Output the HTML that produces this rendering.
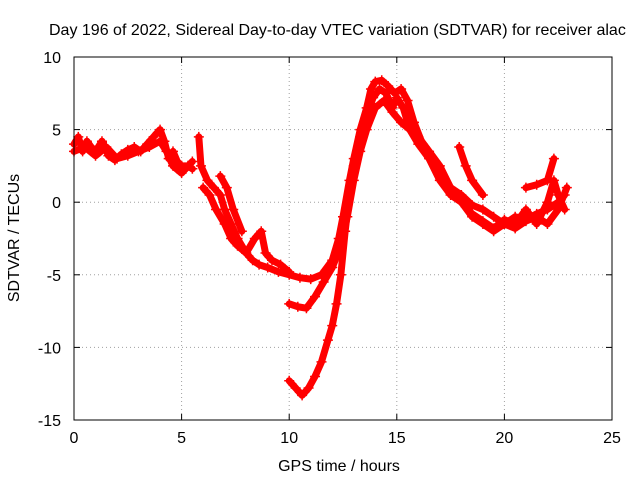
<!DOCTYPE html>
<html><head><meta charset="utf-8"><style>
body{margin:0;background:#fff;}
svg{display:block;font-family:"Liberation Sans",sans-serif;}
</style></head><body>
<svg id="chart" width="640" height="480">
<text x="49" y="35" font-size="16" fill="#000">Day 196 of 2022, Sidereal Day-to-day VTEC variation (SDTVAR) for receiver alac</text>
<g id="grid"></g>
<g id="series"></g>
<rect x="74" y="57" width="538" height="363" fill="none" stroke="#000" stroke-width="1"/>
<g id="axes"></g>
<text x="339" y="471" font-size="16" text-anchor="middle">GPS time / hours</text>
<text transform="translate(19,238) rotate(-90)" font-size="16" text-anchor="middle">SDTVAR / TECUs</text>
</svg>
<script>
const xTicks=[0,5,10,15,20,25];
const yTicks=[-15,-10,-5,0,5,10];
const s1=[[0,4],[0.2,4.5],[0.4,3.5],[0.6,4.2],[0.8,3.8],[1,3.5],[1.3,4.2],[1.6,3.2],[1.9,2.9],[2.2,3.3],[2.5,3.6],[2.8,3.8],[3.1,3.5],[3.4,4],[3.7,4.5],[4,5],[4.2,4.2],[4.4,3],[4.6,3.5],[4.8,2.8],[5,2.5],[5.3,2.5],[5.5,2.3]];
const s1b=[[0,3.5],[0.5,3.8],[1,3.2],[1.5,3.8],[2,3],[2.5,3.2],[3,3.5],[3.5,3.8],[4,4.2],[4.3,3.5],[4.6,2.5],[5,2],[5.5,2.8]];
const s2=[[5.8,4.5],[5.9,2.5],[6.2,1.5],[6.5,1],[6.8,0.5],[7,-0.5],[7.3,-1.5],[7.6,-2.5],[8,-3.5],[8.3,-4],[8.6,-4.3],[9,-4.5],[9.5,-4.8],[10,-5],[10.5,-5.2],[11,-5.3],[11.5,-5],[12,-4],[12.3,-2.5],[12.5,-1],[12.8,1.5],[13,3],[13.3,5],[13.6,6.5],[13.8,7.8],[14,8.3],[14.3,8.4],[14.6,8],[14.9,7.5],[15.2,7.8],[15.5,7],[15.8,5.5],[16.2,4],[16.6,3],[17,2],[17.5,1],[18,0.5],[18.5,-0.2],[19,-0.5],[19.5,-1],[20,-1.5],[20.5,-1],[21,-1.2],[21.5,-0.8],[22,-0.5],[22.5,0],[22.8,0.5]];
const s3=[[6,1],[6.3,0.5],[6.6,-0.5],[7,-1.5],[7.3,-2.5],[7.6,-3],[8,-3.5],[8.4,-2.5],[8.7,-2],[8.9,-3.5],[9.2,-4],[9.6,-4.3],[10,-4.8]];
const s3b=[[6.8,1.8],[7.1,1],[7.4,-0.5],[7.8,-2]];
const s4=[[10,-12.3],[10.3,-12.8],[10.6,-13.3],[10.9,-12.8],[11.2,-12],[11.5,-11],[11.8,-9.5],[12,-8.5],[12.2,-7],[12.4,-5],[12.6,-2],[12.8,0.5],[13,2.5],[13.3,4.5],[13.6,6],[13.9,7.2],[14.2,7.8],[14.5,7.5],[14.8,6.5],[15,7.2],[15.3,6.5],[15.6,5],[16,4.5],[16.5,3.5],[17,2.5],[17.5,1],[18,0],[18.5,-0.8],[19,-1.3],[19.5,-1.8],[20,-1.2],[20.5,-1.5],[21,-0.5],[21.5,-1.5],[22,0],[22.3,1.5],[22.5,0.5],[22.8,-0.5]];
const s5=[[10,-7],[10.4,-7.2],[10.8,-7.3],[11.2,-6.5],[11.6,-5.5],[12,-4.5],[12.4,-3],[12.7,-1],[13,1.5],[13.3,3.5],[13.6,5],[14,6.5],[14.4,7],[14.8,6.2],[15.2,5.5],[15.6,5],[16,4],[16.5,3],[17,1.5],[17.5,0.5],[18,0],[18.5,-1],[19,-1.5],[19.5,-2],[20,-1.5],[20.5,-1.8],[21,-1.3],[21.5,-1],[22,-1.5],[22.5,-0.5],[22.9,1]];
const s6=[[17.9,3.8],[18.2,2.5],[18.5,1.5],[19,0.5]];
const s7=[[21,1],[21.5,1.2],[22,1.5],[22.3,3]];
const allSeries=[s1,s1b,s2,s3,s3b,s4,s5,s6,s7];
const X=v=>74+v*538/25;
const Y=v=>57+(10-v)*363/25;
const NS="http://www.w3.org/2000/svg";
const grid=document.getElementById('grid'),axes=document.getElementById('axes'),ser=document.getElementById('series');
function mk(t,a,p){const e=document.createElementNS(NS,t);for(const k in a)e.setAttribute(k,a[k]);p.appendChild(e);return e;}
xTicks.forEach(t=>{const x=X(t);
 if(t>0&&t<25){const g=mk('line',{x1:x,x2:x,y1:57,y2:420,stroke:'#a0a0a0','stroke-dasharray':'1,3'},grid);
 
 }
 const l=mk('line',{x1:x,x2:x,y1:420,y2:414,stroke:'#000'},axes);
 
 
 const l2=mk('line',{x1:x,x2:x,y1:57,y2:63,stroke:'#000'},axes);
 
 
 const tx=mk('text',{x:x,y:443,'font-size':16,'text-anchor':'middle'},axes);tx.textContent=t;
 
 
});
yTicks.forEach(t=>{const y=Y(t);
 if(t>-15&&t<10){const g=mk('line',{x1:74,x2:612,y1:y,y2:y,stroke:'#a0a0a0','stroke-dasharray':'1,3'},grid);
 
 }
 const l=mk('line',{x1:74,x2:80,y1:y,y2:y,stroke:'#000'},axes);
 
 
 const l2=mk('line',{x1:606,x2:612,y1:y,y2:y,stroke:'#000'},axes);
 
 
 const tx=mk('text',{x:61,y:y+6,'font-size':16,'text-anchor':'end'},axes);tx.textContent=t;
 
 
});
allSeries.forEach(s=>{
 const pl=mk('polyline',{points:s.map(p=>X(p[0])+','+Y(p[1])).join(' '),fill:'none',stroke:'#ff0000','stroke-width':7,'stroke-linejoin':'round','stroke-linecap':'round'},ser);
 
 
 s.forEach(p=>{const x=X(p[0]),y=Y(p[1]);
  const m=mk('path',{d:`M${x-5},${y}h10M${x},${y-5}v10`,stroke:'#ff0000','stroke-width':1.5},ser);
  
  
 });
});
</script>
</body></html>
